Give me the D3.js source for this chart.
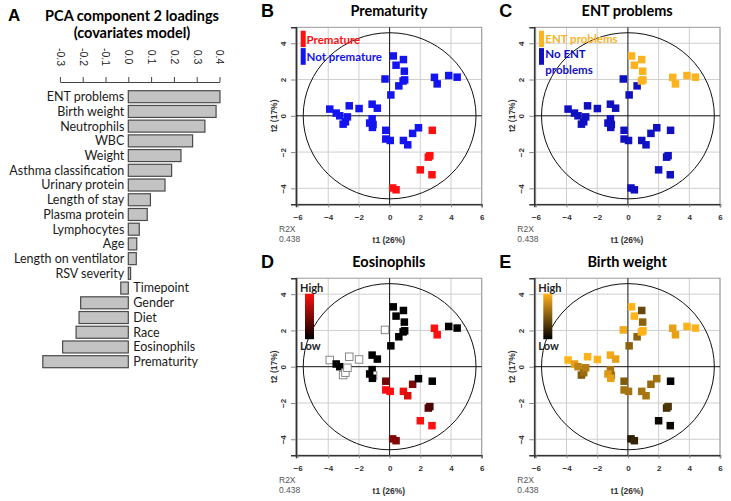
<!DOCTYPE html>
<html><head><meta charset="utf-8">
<script src="https://cdn.jsdelivr.net/npm/d3@7"></script>
<style>
body{margin:0;background:#fff;}
svg{display:block;}
</style></head>
<body>
<svg id="chart" width="731" height="501"></svg>
<script>
// ---------- Panel A data ----------
const loadingVars = ["ENT problems","Birth weight","Neutrophils","WBC","Weight","Asthma classification","Urinary protein","Length of stay","Plasma protein","Lymphocytes","Age","Length on ventilator","RSV severity","Timepoint","Gender","Diet","Race","Eosinophils","Prematurity"];
const loadingValues = [0.402,0.385,0.336,0.282,0.231,0.19,0.161,0.097,0.083,0.048,0.037,0.035,0.01,-0.033,-0.209,-0.216,-0.229,-0.288,-0.375];
const loadingTicks = [-0.3,-0.2,-0.1,0.0,0.1,0.2,0.3,0.4];
const loadingTickLabels = ["-0.3","-0.2","-0.1","0.0","0.1","0.2","0.3","0.4"];

// ---------- Score plot data (t1, t2) ----------
const scoreT1 = [-3.9,-3.48,-3.25,-3.03,-2.88,-2.75,-2.63,-1.99,-1.14,-0.8,-1.14,-1.08,-1.3,-1.12,-0.3,-0.25,-0.25,0.04,0.08,0.24,0.42,0.6,0.9,0.96,0.88,0.98,0.9,1.18,1.5,1.88,2.78,2.92,3.1,3.85,4.4,2.52,2.62,2.0,2.76,0.2,0.42];
const scoreT2 = [0.37,0.15,0.0,-0.46,-0.33,-0.06,0.55,0.40,0.64,0.42,-0.16,-0.48,-0.40,-0.64,2.03,-0.8,-1.28,-1.36,1.15,3.3,2.79,1.65,3.1,2.46,1.92,1.98,-1.36,-1.6,-0.97,-0.66,-0.8,2.12,1.76,2.22,2.13,-2.28,-2.2,-2.98,-3.25,-3.98,-4.08];
const premature   = [0,0,0,0,0,0,0,0,0,0,0,0,0,0,0,0,0,0,0,0,0,0,0,0,0,0,0,0,0,0,1,0,0,0,0,1,1,1,1,1,1];
const entProblems = [0,0,0,0,0,0,0,0,0,0,0,0,0,0,0,0,0,0,0,1,1,0,1,1,1,1,0,0,0,0,0,1,1,1,1,0,0,0,0,0,0];
// eosinophils: 0 = low (black), 1 = high (red), null = missing (open square)
const eosinophils = [null,0,0,null,null,null,null,null,0,0,0,null,0,0,null,0.45,1,1,0,0,0,0,0,0,0,0,0.95,0.85,0.5,0,0,1,1,0,0,0.35,0.3,1,1,0.5,0.5];
// birth weight: 0 = low (black), 1 = high (orange)
const birthWeight = [1,0.9,0.75,0.5,0.6,0.7,1,1,0.95,0.9,0.65,0.6,0.85,0.9,0.95,0.5,0.65,0.65,0.55,1,1,0.55,0.4,0.55,1,1,0.65,0.65,0.6,0.65,0,0.9,0.9,1,1,0.25,0.3,0.05,0.05,0.15,0.2];

const xTicksScore = [-6,-4,-2,0,2,4,6];
const yTicksScore = [-4,-2,0,2,4];
const r2xLabel = ["R2X","0.438"];
const t1Label = "t1 (26%)", t2Label = "t2 (17%)";

// ---------- drawing ----------
const svg = d3.select("#chart");
const FONT_T = "Lato, 'Open Sans', sans-serif";
const FONT_A = "'Liberation Sans', Arial, sans-serif";

// Panel A
(function(){
  const g = svg.append("g");
  g.append("text").attr("x",8).attr("y",21).text("A")
    .attr("font-family",FONT_A).attr("font-weight","bold").attr("font-size",17);
  g.append("text").attr("x",132).attr("y",21).attr("text-anchor","middle")
    .attr("font-family",FONT_T).attr("font-weight","bold").attr("font-size",14.5)
    .text("PCA component 2 loadings");
  g.append("text").attr("x",132).attr("y",38).attr("text-anchor","middle")
    .attr("font-family",FONT_T).attr("font-weight","bold").attr("font-size",14.5)
    .text("(covariates model)");

  const x = d3.scaleLinear().domain([-0.3,0.4]).range([59.9,219.5]);
  const y = d3.scalePoint().domain(loadingVars).range([96.7,361.7]);

  const ax = g.append("g").attr("transform","translate(0,82)")
    .call(d3.axisTop(x).tickValues(loadingTicks).tickSize(5).tickSizeOuter(0)
      .tickFormat((d,i)=>loadingTickLabels[i]));
  ax.select(".domain").attr("stroke","#444");
  ax.selectAll(".tick line").attr("stroke","#444");
  ax.selectAll(".tick text").attr("x",0).attr("y",0).attr("dy","0.35em")
    .attr("transform","translate(0,-25) rotate(90)").attr("text-anchor","middle")
    .attr("font-family",FONT_A).attr("font-size",10.5).attr("fill","#222");

  const rows = loadingVars.map((v,i)=>({name:v,val:loadingValues[i]}));
  g.selectAll("rect.bar").data(rows).join("rect").attr("class","bar")
    .attr("x",d=>x(Math.min(0,d.val))).attr("width",d=>Math.abs(x(d.val)-x(0)))
    .attr("y",d=>y(d.name)-6).attr("height",12)
    .attr("fill","#c3c3c3").attr("stroke","#4a4a4a").attr("stroke-width",1.2);
  g.selectAll("text.lab").data(rows).join("text").attr("class","lab")
    .attr("x",d=>d.val>=0 ? x(0)-4 : x(0)+5)
    .attr("y",d=>y(d.name)).attr("dy","0.35em")
    .attr("text-anchor",d=>d.val>=0?"end":"start")
    .attr("font-family",FONT_T).attr("font-size",12.5).attr("fill","#1a1a1a")
    .text(d=>d.name);
})();

const W = 185.7, H = 177;
function scatterPanel(L, T, letter, title, fillFn, strokeFn, legendFn){
  const g = svg.append("g");
  const x = d3.scaleLinear().domain([-6.1,6.0]).range([L, L+W]);
  const y = d3.scaleLinear().domain([-4.88,4.88]).range([T+H, T]);
  g.append("text").attr("x",L-35).attr("y",T-10).text(letter)
    .attr("font-family",FONT_A).attr("font-weight","bold").attr("font-size",18);
  g.append("text").attr("x",L+W/2).attr("y",T-11).attr("text-anchor","middle")
    .attr("font-family",FONT_T).attr("font-weight","bold").attr("font-size",14.5).text(title);
  // grid
  g.selectAll("line.gx").data(xTicksScore.filter(d=>d!==0)).join("line").attr("class","gx")
    .attr("x1",d=>x(d)).attr("x2",d=>x(d)).attr("y1",T).attr("y2",T+H)
    .attr("stroke","#cfcfcf").attr("stroke-width",1);
  g.selectAll("line.gy").data(yTicksScore.filter(d=>d!==0)).join("line").attr("class","gy")
    .attr("x1",L).attr("x2",L+W).attr("y1",d=>y(d)).attr("y2",d=>y(d))
    .attr("stroke","#cfcfcf").attr("stroke-width",1);
  // frame
  g.append("rect").attr("x",L).attr("y",T).attr("width",W).attr("height",H)
    .attr("fill","none").attr("stroke","#9a9a9a").attr("stroke-width",1);
  // axes
  const xa = g.append("g").attr("transform",`translate(0,${T+H})`)
    .call(d3.axisBottom(x).tickValues(xTicksScore).tickSize(3).tickPadding(7));
  xa.select(".domain").attr("stroke","#333").attr("stroke-width",1.5);
  xa.selectAll(".tick line").attr("stroke","#888");
  xa.selectAll(".tick text").attr("font-family",FONT_A).attr("font-weight","bold")
    .attr("font-size",8).attr("fill","#333");
  const ya = g.append("g").attr("transform",`translate(${L},0)`)
    .call(d3.axisLeft(y).tickValues(yTicksScore).tickSize(5));
  ya.select(".domain").attr("stroke","#333").attr("stroke-width",1.5);
  ya.selectAll(".tick line").attr("stroke","#888");
  ya.selectAll(".tick text").attr("x",0).attr("y",0).attr("dy","0.35em")
    .attr("transform","translate(-13,0) rotate(-90)").attr("text-anchor","middle")
    .attr("font-family",FONT_A).attr("font-weight","bold").attr("font-size",8).attr("fill","#333");
  // zero lines
  g.append("line").attr("x1",x(0)).attr("x2",x(0)).attr("y1",T).attr("y2",T+H).attr("stroke","#111");
  g.append("line").attr("x1",L).attr("x2",L+W).attr("y1",y(0)).attr("y2",y(0)).attr("stroke","#111");
  // ellipse
  g.append("ellipse").attr("cx",x(0)).attr("cy",y(0))
    .attr("rx",x(5.63)-x(0)).attr("ry",y(0)-y(4.58))
    .attr("fill","none").attr("stroke","#111").attr("stroke-width",1);
  // labels
  g.append("text").attr("x",L+W/2).attr("y",T+H+39).attr("text-anchor","middle")
    .attr("font-family",FONT_A).attr("font-weight","bold").attr("font-size",8.5).attr("fill","#333").text(t1Label);
  g.append("text").attr("transform",`translate(${L-22},${y(0)}) rotate(-90)`).attr("text-anchor","middle")
    .attr("dy","0.35em").attr("font-family",FONT_A).attr("font-weight","bold").attr("font-size",8.5).attr("fill","#333").text(t2Label);
  g.append("text").attr("x",L-17).attr("y",T+H+28).attr("font-family",FONT_A).attr("font-size",8.5).attr("fill","#555").text(r2xLabel[0]);
  g.append("text").attr("x",L-17).attr("y",T+H+38).attr("font-family",FONT_A).attr("font-size",8.5).attr("fill","#555").text(r2xLabel[1]);
  // points
  const pts = scoreT1.map((t,i)=>({t1:t,t2:scoreT2[i],i}));
  const s = 7.5;
  g.selectAll("rect.pt").data(pts).join("rect").attr("class","pt")
    .attr("x",d=>x(d.t1)-s/2).attr("y",d=>y(d.t2)-s/2).attr("width",s).attr("height",s)
    .attr("fill",d=>fillFn(d.i)).attr("stroke",d=>strokeFn(d.i)).attr("stroke-width",d=>strokeFn(d.i)==="none"?0:1);
  legendFn(g, L, T);
}

const blueB = "#1414f0", redB = "#ff1010", blueC = "#1010c0", orangeC = "#fbb31f";
const none = ()=>"none";

scatterPanel(296, 27.3, "B", "Prematurity",
  i=>premature[i]?redB:blueB, none,
  (g,L,T)=>{
    g.append("rect").attr("x",L+4.7).attr("y",T+3.4).attr("width",5).attr("height",16.4).attr("fill",redB);
    g.append("rect").attr("x",L+4.7).attr("y",T+20.8).attr("width",5).attr("height",16.7).attr("fill",blueB);
    g.append("text").attr("x",L+10.5).attr("y",T+12.5).attr("dy","0.35em").attr("fill",redB)
      .attr("font-family",FONT_T).attr("font-weight","bold").attr("font-size",11.5).text("Premature");
    g.append("text").attr("x",L+10.5).attr("y",T+29.5).attr("dy","0.35em").attr("fill",blueB)
      .attr("font-family",FONT_T).attr("font-weight","bold").attr("font-size",11.5).text("Not premature");
  });

scatterPanel(534.3, 27.3, "C", "ENT problems",
  i=>entProblems[i]?orangeC:blueC, none,
  (g,L,T)=>{
    g.append("rect").attr("x",L+4.7).attr("y",T+3.4).attr("width",5).attr("height",16.4).attr("fill",orangeC);
    g.append("rect").attr("x",L+4.7).attr("y",T+20.8).attr("width",5).attr("height",16.7).attr("fill",blueC);
    g.append("text").attr("x",L+11).attr("y",T+12).attr("dy","0.35em").attr("fill",orangeC)
      .attr("font-family",FONT_T).attr("font-weight","bold").attr("font-size",11.5).text("ENT problems");
    g.append("text").attr("x",L+11).attr("y",T+26.5).attr("dy","0.35em").attr("fill",blueC)
      .attr("font-family",FONT_T).attr("font-weight","bold").attr("font-size",11.5).text("No ENT");
    g.append("text").attr("x",L+11).attr("y",T+42.5).attr("dy","0.35em").attr("fill",blueC)
      .attr("font-family",FONT_T).attr("font-weight","bold").attr("font-size",11.5).text("problems");
  });

const eosColor = d3.interpolateRgb("#000000","#ff1010");
const bwColor = d3.interpolateRgb("#000000","#ffb31a");

function gradientLegend(g,L,T,id,topColor){
  const grad = svg.append("defs").append("linearGradient").attr("id",id)
    .attr("x1",0).attr("y1",0).attr("x2",0).attr("y2",1);
  grad.append("stop").attr("offset","0%").attr("stop-color",topColor);
  grad.append("stop").attr("offset","100%").attr("stop-color","#000");
  g.append("rect").attr("x",L+9).attr("y",T+15.5).attr("width",9).attr("height",45.5).attr("fill",`url(#${id})`);
  g.append("text").attr("x",L+4).attr("y",T+10).attr("dy","0.35em")
    .attr("font-family",FONT_T).attr("font-weight","bold").attr("font-size",11).attr("fill","#222").text("High");
  g.append("text").attr("x",L+4).attr("y",T+68).attr("dy","0.35em")
    .attr("font-family",FONT_T).attr("font-weight","bold").attr("font-size",11).attr("fill","#222").text("Low");
}

scatterPanel(296, 278.2, "D", "Eosinophils",
  i=>eosinophils[i]===null?"#ffffff":eosColor(eosinophils[i]),
  i=>eosinophils[i]===null?"#888":"none",
  (g,L,T)=>gradientLegend(g,L,T,"gradD","#ff1010"));

scatterPanel(534.3, 278.2, "E", "Birth weight",
  i=>bwColor(birthWeight[i]), none,
  (g,L,T)=>gradientLegend(g,L,T,"gradE","#ffb31a"));
</script>
</body></html>
